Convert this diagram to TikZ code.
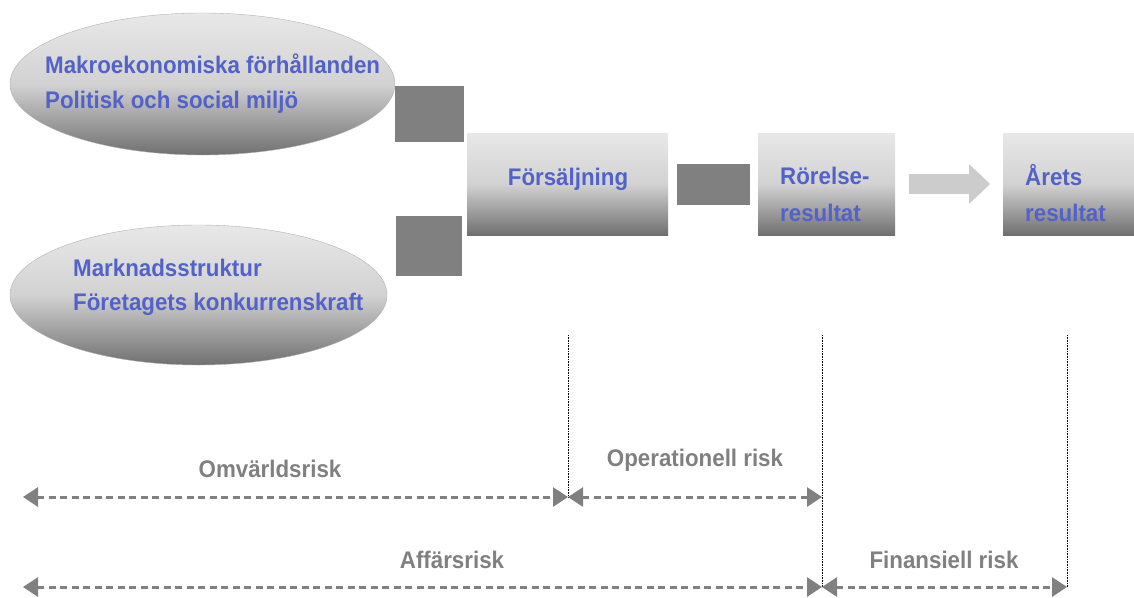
\documentclass[tikz,border=0pt]{standalone}
\usepackage{fontspec}
\setmainfont[FakeStretch=0.93]{Liberation Sans}
\usetikzlibrary{arrows.meta,shapes.geometric}
\definecolor{txtblue}{RGB}{82,98,200}
\definecolor{sqgray}{RGB}{128,128,128}
\definecolor{lblgray}{RGB}{128,128,128}
\definecolor{gtop}{RGB}{232,232,232}
\definecolor{gmid}{RGB}{210,210,210}
\definecolor{gbot}{RGB}{112,112,112}
\definecolor{arrgray}{RGB}{204,204,204}
\begin{document}
\begin{tikzpicture}[x=1pt,y=-1pt,
  bigtxt/.style={font=\fontsize{24}{28}\selectfont\bfseries, inner sep=0pt, anchor=base west},
  bluetxt/.style={bigtxt, text=txtblue},
  risktxt/.style={font=\fontsize{24}{28}\selectfont\bfseries, inner sep=0pt, anchor=base, text=lblgray},
  oval/.style={ellipse, draw=gray!60, line width=0.4pt, top color=gtop, bottom color=gbot, middle color=gmid},
  stepbox/.style={rectangle, draw=none, top color=gtop, bottom color=gbot, middle color=gmid, inner sep=0pt},
  sq/.style={rectangle, fill=sqgray, draw=none, inner sep=0pt},
  riskarrow/.style={draw=lblgray, line width=3pt, dash pattern=on 7pt off 4.5pt, {Triangle[length=15pt,width=19pt]}-{Triangle[length=15pt,width=19pt]}},
  divider/.style={draw=black, line width=0.6pt, densely dotted}
]
\useasboundingbox (0,0) rectangle (1134,597);

% ovals
\node[oval, minimum width=385pt, minimum height=142pt] (e1) at (202.5,84) {};
\node[oval, minimum width=377pt, minimum height=140pt] (e2) at (198.5,295) {};
\node[bluetxt] (t1) at (45,73) {Makroekonomiska förhållanden};
\node[bluetxt] (t2) at (45,108) {Politisk och social miljö};
\node[bluetxt] (t3) at (73,276) {Marknadsstruktur};
\node[bluetxt] (t4) at (73,310) {Företagets konkurrenskraft};

% squares
\node[sq, minimum width=69pt, minimum height=56pt] (s1) at (429.5,114) {};
\node[sq, minimum width=66pt, minimum height=60pt] (s2) at (429,246) {};
\node[sq, minimum width=73pt, minimum height=41pt] (s3) at (713.5,184.5) {};

% step boxes
\node[stepbox, minimum width=201pt, minimum height=102pt] (b1) at (567.5,184) {};
\node[stepbox, minimum width=137pt, minimum height=102pt] (b2) at (826.5,184) {};
\node[stepbox, minimum width=131pt, minimum height=102pt] (b3) at (1068.5,184) {};
\node[bluetxt, anchor=base] (l1) at (568,185) {Försäljning};
\node[bluetxt] (l2) at (780,184) {Rörelse-};
\node[bluetxt] (l3) at (780,221) {resultat};
\node[bluetxt] (l4) at (1025,185) {Årets};
\node[bluetxt] (l5) at (1025,221) {resultat};

% light arrow
\fill[arrgray] (909,174) -- (969,174) -- (969,164) -- (990,184) -- (969,204) -- (969,194) -- (909,194) -- cycle;

% dividers
\coordinate (d1top) at (568,335);
\coordinate (d2top) at (822,335);
\coordinate (d3top) at (1067,335);
\coordinate (a0) at (23,497);
\coordinate (a1) at (568,497);
\coordinate (a2) at (822,497);
\coordinate (c0) at (23,587);
\coordinate (c1) at (822,587);
\coordinate (c2) at (1067,587);
\draw[divider] (d1top) -- (a1);
\draw[divider] (d2top) -- (c1);
\draw[divider] (d3top) -- (c2);

% risk arrows
\draw[riskarrow] (a0) -- (a1);
\draw[riskarrow] (a1) -- (a2);
\draw[riskarrow] (c0) -- (c1);
\draw[riskarrow] (c1) -- (c2);

\node[risktxt] (r1) at (270,477) {Omvärldsrisk};
\node[risktxt] (r2) at (695,466) {Operationell risk};
\node[risktxt] (r3) at (452,568) {Affärsrisk};
\node[risktxt] (r4) at (944,568) {Finansiell risk};
\end{tikzpicture}
\end{document}
